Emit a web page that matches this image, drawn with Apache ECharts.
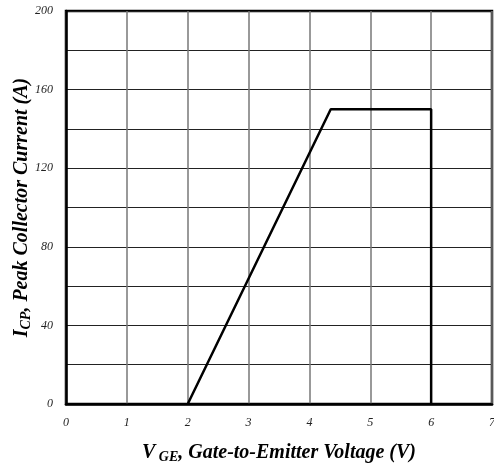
<!DOCTYPE html>
<html>
<head>
<meta charset="utf-8">
<script src="https://cdn.jsdelivr.net/npm/echarts@6/dist/echarts.min.js"></script>
<style>html,body{margin:0;padding:0;background:#fff}#c{width:494px;height:466px}</style>
</head>
<body>
<div id="c"></div>
<script>
const vge = [2.0, 4.35, 6.0, 6.0];
const icp = [0, 150, 150, 0];
const xTicks = [0, 1, 2, 3, 4, 5, 6, 7];
const yTicks = [0, 40, 80, 120, 160, 200];

const chart = echarts.init(document.getElementById('c'));
const serif = '"Liberation Serif", "Times New Roman", serif';
const rich = {
  m: { fontFamily: serif, fontStyle: 'italic', fontWeight: 'bold', fontSize: 20, color: '#000' },
  s: { fontFamily: serif, fontStyle: 'italic', fontWeight: 'bold', fontSize: 14, color: '#000', verticalAlign: 'bottom', padding: [9, 0, 0, 0] }
};
chart.setOption({
  animation: false,
  backgroundColor: '#fff',
  grid: { left: 66, right: 2, top: 11, bottom: 62, outerBoundsMode: 'none', containLabel: false,
    show: true, borderColor: '#000', borderWidth: 2.5, backgroundColor: 'transparent' },
  xAxis: {
    type: 'value', min: 0, max: 7, interval: 1,
    name: '{m|V}{s| GE}{m|, Gate-to-Emitter Voltage (V)}',
    nameLocation: 'middle', nameGap: 37,
    nameMoveOverlap: false,
    nameTextStyle: { rich },
    axisLine: { show: true, lineStyle: { color: '#000', width: 2.5 } },
    axisTick: { show: false },
    axisLabel: { margin: 13, fontFamily: serif, fontStyle: 'italic', fontSize: 12, color: '#222',
      formatter: v => xTicks.includes(v) ? String(v) : '' },
    splitLine: { show: true, lineStyle: { color: '#777', width: 1.5 } }
  },
  yAxis: {
    type: 'value', min: 0, max: 200, interval: 20,
    name: '{m|I}{s|CP}{m|, Peak Collector Current (A)}',
    nameLocation: 'middle', nameGap: 33,
    nameMoveOverlap: false,
    nameTextStyle: { rich },
    axisLine: { show: true, lineStyle: { color: '#000', width: 2.5 } },
    axisTick: { show: false },
    axisLabel: { margin: 13, fontFamily: serif, fontStyle: 'italic', fontSize: 12, color: '#222',
      formatter: v => yTicks.includes(v) ? String(v) : '' },
    splitLine: { show: true, lineStyle: { color: '#222', width: 1 } }
  },
  series: [{
    type: 'line',
    data: vge.map((x, i) => [x, icp[i]]),
    showSymbol: false,
    lineStyle: { color: '#000', width: 2.5 },
    z: 5
  }]
});
</script>
</body>
</html>
